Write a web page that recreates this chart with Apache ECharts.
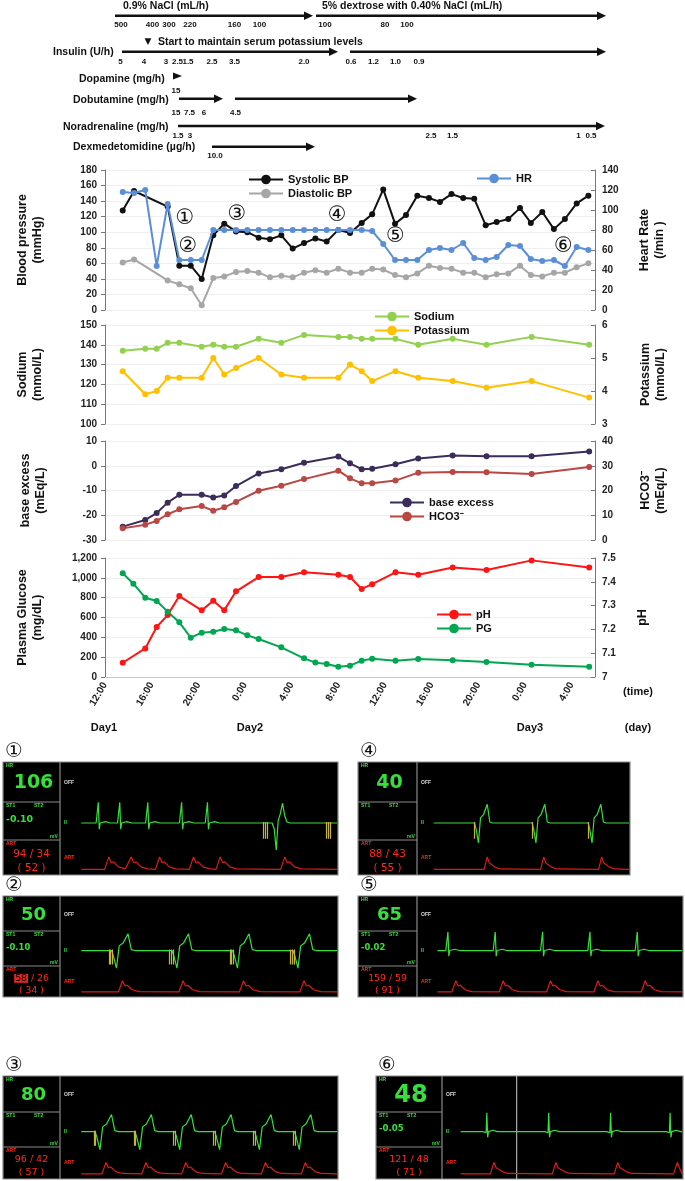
<!DOCTYPE html>
<html>
<head>
<meta charset="utf-8">
<script src="https://cdn.jsdelivr.net/npm/echarts@6/dist/echarts.min.js"></script>
<style>
  html, body { margin: 0; padding: 0; background: #fff; }
  #report-container { width: 685px; height: 1181px; }
</style>
</head>
<body>
<div id="report-container"></div>
<script>
var FONT = '"Liberation Sans", Arial, Helvetica, sans-serif';
var MONO = '"DejaVu Sans", sans-serif';

// x axis = hours after 12:00 on Day1
var timeLabels = ['12:00', '16:00', '20:00', '0:00', '4:00', '8:00', '12:00', '16:00', '20:00', '0:00', '4:00'];

// vital signs
var bpHours = [1.52, 2.49, 5.37, 6.37, 7.35, 8.29, 9.28, 10.22, 11.23, 12.2, 13.17, 14.14, 15.11, 16.09, 17.06, 18.03, 19.0, 20.0,
  21.0, 22.0, 22.9, 23.85, 24.86, 25.8, 26.77, 27.77, 28.71, 29.7, 30.7, 31.65, 32.63, 33.57, 34.57, 35.57, 36.5, 37.48, 38.48, 39.42, 40.43, 41.43];
var systolic = [128, 153, 133, 57, 57, 40, 96, 111, 101, 100, 93, 91, 96, 79, 86, 92, 88, 103,
  99, 112, 123, 155, 111, 122, 147, 144, 139, 149, 144, 143, 109, 113, 117, 131, 112, 126, 104, 117, 137, 147];
var diastolic = [61, 65, 38, 33, 28, 6, 41, 43, 49, 50, 48, 42, 44, 42, 48, 51, 48, 53,
  48, 48, 53, 52, 45, 42, 47, 57, 54, 53, 48, 48, 42, 46, 47, 57, 45, 43, 48, 48, 55, 60];
var hrHours = [1.52, 2.49, 3.45, 4.43, 5.37, 6.37, 7.35, 8.29, 9.28, 10.22, 11.23, 12.2, 13.17, 14.14, 15.11, 16.09, 17.06, 18.03, 19.0, 20.0,
  21.0, 22.0, 22.9, 23.85, 24.86, 25.8, 26.77, 27.77, 28.71, 29.7, 30.7, 31.65, 32.63, 33.57, 34.57, 35.57, 36.5, 37.48, 38.48, 39.42, 40.43, 41.43];
var heartRate = [118, 117, 120, 44, 106, 50, 50, 50, 80, 80, 80, 80, 80, 80, 80, 80, 80, 80, 80, 80,
  80, 80, 79, 66, 50, 50, 50, 60, 62, 60, 67, 52, 50, 53, 65, 64, 51, 49, 50, 44, 63, 60];

// labs
var labHours = [1.52, 3.45, 4.43, 5.37, 6.37, 8.29, 9.28, 10.22, 11.23, 13.17, 15.11, 17.06, 20.0, 21.0, 22.0, 22.9, 24.9, 26.85, 29.8, 32.7, 36.57, 41.5];
var sodium = [137, 138, 138, 141, 141, 139, 140, 139, 139, 143, 141, 145, 144, 144, 143, 143, 143, 140, 143, 140, 144, 140];
var potassium = [4.6, 3.9, 4.0, 4.4, 4.4, 4.4, 5.0, 4.5, 4.7, 5.0, 4.5, 4.4, 4.4, 4.8, 4.6, 4.3, 4.6, 4.4, 4.3, 4.1, 4.3, 3.8];
var baseExcess = [-24.6, -21.9, -19.1, -14.9, -11.7, -11.7, -12.8, -12.0, -8.2, -3.1, -1.4, 1.2, 3.7, 1.0, -1.4, -1.2, 0.6, 2.9, 4.1, 3.8, 3.8, 5.8];
var hco3 = [4.7, 6.2, 7.7, 10.4, 12.4, 13.7, 11.8, 13.2, 15.4, 19.9, 21.9, 24.6, 28.0, 24.9, 22.9, 22.9, 24.0, 27.2, 27.5, 27.4, 26.7, 29.5];
var ph = [7.06, 7.12, 7.21, 7.26, 7.34, 7.28, 7.32, 7.28, 7.36, 7.42, 7.42, 7.44, 7.43, 7.42, 7.37, 7.39, 7.44, 7.43, 7.46, 7.45, 7.49, 7.46];
var pgHours = [1.52, 2.43, 3.45, 4.43, 5.37, 6.37, 7.35, 8.29, 9.28, 10.22, 11.23, 12.2, 13.17, 15.11, 17.06, 18.03, 19.0, 20.0,
  21.0, 22.0, 22.9, 24.9, 26.85, 29.8, 32.7, 36.57, 41.5];
var glucose = [1046, 941, 800, 766, 659, 551, 397, 447, 457, 484, 471, 420, 383, 299, 188, 145, 131, 104,
  114, 165, 185, 165, 182, 168, 151, 124, 104];

// circled event numbers (anchored in BP chart data space)
var eventTags = ['①', '②', '③', '④', '⑤', '⑥'];
var eventAnchor = [[6.86, 118], [7.1, 82], [11.3, 123], [19.9, 121], [24.9, 95], [39.3, 82]];

// monitor screens (order: ①, ④, ②, ⑤, ③, ⑥)
var monitorHR = ['106', '40', '50', '65', '80', '48'];
var monitorST = ['-0.10', '', '-0.10', '-0.02', '', '-0.05'];
var monitorART = ['94 / 34', '88 / 43', '{hl|58} / 26', '159 / 59', '96 / 42', '121 / 48'];
var monitorMean = ['( 52 )', '( 55 )', '( 34 )', '( 91 )', '( 57 )', '( 71 )'];

// beat templates  [dx, amplitude]
var qrsNarrow = [[-1.6, 0], [-1.2, 0.07], [-0.8, 0], [-0.3, -0.06], [0, 1], [0.35, -0.3], [0.7, 0], [2.6, 0.07], [4.4, 0]];
var qrsPvc = [[-0.6, 0], [0.2, -0.3], [0.9, -1.3], [1.6, 0.1], [2.4, 0.45], [3.2, 0.95], [4.0, 0.35], [4.8, 0.05], [6, 0]];
var qrsPaced = [[0, 0], [0.6, -0.25], [1.8, -0.95], [2.8, 0.25], [4.2, 0.4], [6, 0.9], [7.2, 0.05], [8.5, 0]];
var artPulse = [[-1.5, 0], [0, 0.6], [0.9, 0.32], [1.7, 0.36], [3.5, 0.12], [6, 0.02]];

// beat positions per screen (0-100 across the trace area)
var ecgNarrow = [[13.2, 21, 31.2, 43.5, 52.9], [], [], [11, 29, 47, 65, 83], [], [18, 44, 70, 95]];
var ecgWide = [[77], [], [], [], [], []];
var ecgPaced = [[], [26.5, 53.9, 80.6], [18, 40, 62, 84], [], [12, 26.5, 41, 55.5, 70, 84.5], []];
var paceSpikes = [[73.3, 74, 74.7, 96, 96.7, 97.4], [26.5, 53.9, 80.6], [17, 17.7, 18.4, 39, 39.7, 40.4, 61, 61.7, 62.4, 83, 83.7, 84.4],
  [], [11.6, 12.2, 26.1, 26.7, 40.6, 41.2, 55.1, 55.7, 69.6, 70.2, 84.1, 84.7], []];
var artBeats = [[17, 25.2, 35.5, 47.8, 57.5, 81], [32.5, 59.4, 87], [22, 44, 66, 88], [14, 32, 50, 68, 86], [16, 30.5, 45, 59.5, 74, 88.5], [21, 47, 73, 98]];

var dom = document.getElementById('report-container');
var myChart = echarts.init(dom);
var G = [];

function T(x, y, s, size, o) {
  o = o || {};
  var st = {
    text: s, font: (o.weight || 'bold') + ' ' + size + 'px ' + (o.family || FONT),
    fill: o.color || '#111', textAlign: o.align || 'center', textVerticalAlign: 'middle'
  };
  if (o.rich) st.rich = o.rich;
  G.push({type: 'text', x: x, y: y, z: 20, style: st});
}
function ARROW(x1, x2, y) {
  G.push({type: 'line', z: 20, shape: {x1: x1, y1: y, x2: x2 - 6, y2: y}, style: {stroke: '#111', lineWidth: 2.6}});
  G.push({type: 'polygon', z: 20, shape: {points: [[x2 - 9, y - 4.2], [x2, y], [x2 - 9, y + 4.2]]}, style: {fill: '#111'}});
}

// ---- infusion header
T(123, 6, '0.9% NaCl (mL/h)', 10.5, {align: 'left'});
T(322, 6, '5% dextrose with 0.40% NaCl (mL/h)', 10.5, {align: 'left'});
ARROW(115, 313, 15.7);
ARROW(316, 606, 15.7);
[['500', 121], ['400', 152.5], ['300', 169], ['220', 190], ['160', 234.5], ['100', 259.5], ['100', 325], ['80', 385], ['100', 407]]
  .forEach(function (t) { T(t[1], 25, t[0], 8); });
T(148, 41.7, '▼', 9, {family: MONO, weight: 'normal'});
T(158, 41.7, 'Start to maintain serum potassium levels', 10.5, {align: 'left'});
T(53, 52, 'Insulin (U/h)', 10.5, {align: 'left'});
ARROW(122, 338, 51.7);
ARROW(350, 606, 51.7);
[['5', 120.5], ['4', 144], ['3', 166], ['2.5', 177.5], ['1.5', 188], ['2.5', 212], ['3.5', 234.5], ['2.0', 304],
  ['0.6', 351], ['1.2', 373.5], ['1.0', 395.5], ['0.9', 419]].forEach(function (t) { T(t[1], 62, t[0], 8); });
T(79, 79, 'Dopamine (mg/h)', 10.5, {align: 'left'});
G.push({type: 'polygon', z: 20, shape: {points: [[173, 72.5], [182, 76], [173, 79.5]]}, style: {fill: '#111'}});
T(176, 91, '15', 8);
T(73, 100, 'Dobutamine (mg/h)', 10.5, {align: 'left'});
ARROW(179, 223, 98.7);
ARROW(235, 417, 98.7);
[['15', 176], ['7.5', 189.5], ['6', 204], ['4.5', 235.5]].forEach(function (t) { T(t[1], 113, t[0], 8); });
T(63, 127, 'Noradrenaline (mg/h)', 10.5, {align: 'left'});
ARROW(178, 605, 126);
[['1.5', 178], ['3', 190], ['2.5', 431], ['1.5', 452.5], ['1', 578.5], ['0.5', 591]].forEach(function (t) { T(t[1], 136, t[0], 8); });
T(73, 147, 'Dexmedetomidine (µg/h)', 10.5, {align: 'left'});
ARROW(212, 315, 146.7);
T(215, 156, '10.0', 8);

T(638, 692, '(time)', 11);
T(104, 728, 'Day1', 11);
T(250, 728, 'Day2', 11);
T(530, 728, 'Day3', 11);
T(638, 728, '(day)', 11);

// ---- main trend charts
var grids = [
  {left: 105, width: 490, top: 170, height: 140},
  {left: 105, width: 490, top: 325, height: 99},
  {left: 105, width: 490, top: 441, height: 99},
  {left: 105, width: 490, top: 558, height: 119}
];
var xAxes = [0, 1, 2, 3].map(function (i) {
  return {
    type: 'value', gridIndex: i, min: 0, max: 42, interval: 4, show: i === 3,
    axisLine: {lineStyle: {color: '#c8c8c8'}}, axisTick: {show: false}, splitLine: {show: false},
    axisLabel: {
      rotate: 60, margin: 6, fontSize: 10, fontWeight: 'bold', color: '#222', fontFamily: FONT,
      formatter: function (v) { return v % 4 === 0 ? timeLabels[v / 4] : ''; }
    }
  };
});
function yAx(grid, pos, min, max, interval, name, gap, fmt) {
  return {
    type: 'value', gridIndex: grid, position: pos, min: min, max: max, interval: interval,
    name: name, nameLocation: 'middle', nameRotate: 90, nameGap: gap,
    nameTextStyle: {fontSize: 12.5, fontWeight: 'bold', color: '#111', lineHeight: 15, fontFamily: FONT},
    axisLine: {show: true, lineStyle: {color: '#777'}},
    axisTick: {show: true, length: 4, inside: pos === 'right', lineStyle: {color: '#777'}},
    axisLabel: {fontSize: 10, fontWeight: 'bold', color: '#222', margin: pos === 'right' ? 7 : 8, fontFamily: FONT, formatter: fmt},
    splitLine: {show: pos === 'left', lineStyle: {color: '#efefef'}}
  };
}
var yAxes = [
  yAx(0, 'left', 0, 180, 20, 'Blood pressure\n(mmHg)', 60),
  yAx(0, 'right', 0, 140, 20, 'Heart Rate\n(/min )', 42),
  yAx(1, 'left', 100, 150, 10, 'Sodium\n(mmol/L)', 60),
  yAx(1, 'right', 3, 6, 1, 'Potassium\n(mmol/L)', 43),
  yAx(2, 'left', -30, 10, 10, 'base excess\n(mEq/L)', 57),
  yAx(2, 'right', 0, 40, 10, 'HCO3⁻\n(mEq/L)', 43),
  yAx(3, 'left', 0, 1200, 200, 'Plasma Glucose\n(mg/dL)', 60),
  yAx(3, 'right', 7, 7.5, 0.1, 'pH', 40, function (v) { return Math.abs(v - 7) < 1e-6 ? '7' : v.toFixed(1); })
];

function zip(h, v) { return h.map(function (x, i) { return [x, v[i]]; }); }
function trend(name, hours, vals, color, xi, yi, extra) {
  var s = {
    name: name, type: 'line', xAxisIndex: xi, yAxisIndex: yi, data: zip(hours, vals),
    symbol: 'circle', symbolSize: 6, showSymbol: true,
    lineStyle: {color: color, width: 2}, itemStyle: {color: color}, z: 3
  };
  if (extra) Object.assign(s, extra);
  return s;
}

var series = [
  trend('Diastolic BP', bpHours, diastolic, '#a6a6a6', 0, 0),
  trend('Systolic BP', bpHours, systolic, '#111111', 0, 0, {
    markPoint: {
      symbol: 'circle', symbolSize: 1, itemStyle: {color: 'rgba(0,0,0,0)'},
      label: {show: true, position: 'inside', formatter: '{b}', fontSize: 21, color: '#111', fontFamily: MONO},
      data: eventTags.map(function (t, i) { return {name: t, coord: eventAnchor[i]}; })
    }
  }),
  trend('HR', hrHours, heartRate, '#5a8fd8', 0, 1, {z: 4}),
  trend('Sodium', labHours, sodium, '#92d050', 1, 2),
  trend('Potassium', labHours, potassium, '#ffc000', 1, 3),
  trend('base excess', labHours, baseExcess, '#3b2d5a', 2, 4),
  trend('HCO3⁻', labHours, hco3, '#b94743', 2, 5),
  trend('pH', labHours, ph, '#ff1414', 3, 7),
  trend('PG', pgHours, glucose, '#00a650', 3, 6)
];

function leg(names, left, top) {
  return {
    data: names, left: left, top: top, orient: 'vertical', itemGap: 3, itemWidth: 34, itemHeight: 12,
    textStyle: {fontSize: 11, fontWeight: 'bold', color: '#111', fontFamily: FONT}, selectedMode: false
  };
}
var legends = [
  leg(['Systolic BP', 'Diastolic BP'], 243, 169),
  leg(['HR'], 471, 168),
  leg(['Sodium', 'Potassium'], 369, 306),
  leg(['base excess', 'HCO3⁻'], 384, 492),
  leg(['pH', 'PG'], 431, 604)
];

// ---- bedside monitor screens
var panelLayout = [
  {tag: '①', x: 3, y: 762, w: 335, h: 113, col: 57, hrFont: 19},
  {tag: '④', x: 358, y: 762, w: 272, h: 113, col: 59, hrFont: 19},
  {tag: '②', x: 3, y: 896, w: 335, h: 101, col: 57, hrFont: 18},
  {tag: '⑤', x: 358, y: 896, w: 325, h: 101, col: 59, hrFont: 18},
  {tag: '③', x: 3, y: 1076, w: 335, h: 103, col: 57, hrFont: 18},
  {tag: '⑥', x: 376, y: 1076, w: 307, h: 103, col: 66, hrFont: 24, cursor: 31}
];

function buildTrace(events, base, from, to) {
  events.sort(function (a, b) { return a[0] - b[0]; });
  var pts = [[from, base]];
  events.forEach(function (e) {
    e[1].forEach(function (p) {
      var x = e[0] + p[0];
      if (x > pts[pts.length - 1][0] && x <= to) pts.push([x, base + p[1]]);
    });
  });
  pts.push([to, base]);
  return pts;
}

var MG = '#36e03a', MR = '#ff2a1a';
panelLayout.forEach(function (p, k) {
  var gi = grids.length;
  var axX = p.x + p.col;
  var h = p.h, f = h / 114;
  var ecgBase = 0.54 * h, artBaseY = 0.95 * h, SC = 21 * f;
  var d1 = Math.round(0.35 * h), d2 = Math.round(0.69 * h);
  var fnt = function (n) { return Math.max(4.5, n * f); };
  T(p.x + 11, p.y - 10, p.tag, 20, {weight: 'normal', family: MONO});
  G.push({type: 'rect', z: 1, shape: {x: p.x, y: p.y, width: p.w, height: h}, style: {fill: '#000', stroke: '#8a8a8a', lineWidth: 1.2}});
  G.push({type: 'line', z: 2, shape: {x1: axX, y1: p.y, x2: axX, y2: p.y + h}, style: {stroke: '#8a8a8a', lineWidth: 1.2}});
  G.push({type: 'line', z: 2, shape: {x1: p.x, y1: p.y + d1, x2: axX, y2: p.y + d1}, style: {stroke: '#8a8a8a', lineWidth: 1.2}});
  G.push({type: 'line', z: 2, shape: {x1: p.x, y1: p.y + d2, x2: axX, y2: p.y + d2}, style: {stroke: '#8a8a8a', lineWidth: 1.2}});
  if (p.cursor) {
    var cx = axX + p.cursor * (p.w - p.col) / 100;
    G.push({type: 'line', z: 2, shape: {x1: cx, y1: p.y, x2: cx, y2: p.y + h}, style: {stroke: '#cfcfcf', lineWidth: 1}});
  }
  T(p.x + 3, p.y + 4, 'HR', 5, {align: 'left', color: MG});
  T(p.x + p.col / 2 + 2, p.y + 0.18 * h + 1, monitorHR[k], p.hrFont, {color: MG, family: MONO});
  T(p.x + 3, p.y + d1 + 4, 'ST1', 5, {align: 'left', color: MG});
  T(p.x + 31, p.y + d1 + 4, 'ST2', 5, {align: 'left', color: MG});
  T(p.x + 3, p.y + 0.51 * h, monitorST[k], fnt(9.5), {align: 'left', color: MG, family: MONO});
  T(p.x + p.col - 6, p.y + d2 - 3, 'mV', 5, {color: MG});
  T(p.x + 3, p.y + d2 + 4, 'ART', 5, {align: 'left', color: MR});
  T(p.x + p.col / 2, p.y + 0.815 * h, monitorART[k], fnt(10.5), {
    color: MR, family: MONO, weight: 'normal',
    rich: {hl: {backgroundColor: '#e8251a', fill: '#000', color: '#000', font: 'normal ' + fnt(10.5) + 'px ' + MONO, padding: [0, 1]}}
  });
  T(p.x + p.col / 2, p.y + 0.94 * h, monitorMean[k], fnt(10.5), {color: MR, family: MONO, weight: 'normal'});
  T(axX + 4, p.y + 0.18 * h, 'OFF', 5, {align: 'left', color: '#ddd'});
  T(axX + 4, p.y + ecgBase, 'II', 5, {align: 'left', color: MG});
  T(axX + 4, p.y + artBaseY - 12 * f, 'ART', 5, {align: 'left', color: MR});

  grids.push({left: axX + 2, top: p.y, width: p.w - p.col - 3, height: h});
  xAxes.push({type: 'value', gridIndex: gi, min: 0, max: 100, show: false});
  yAxes.push({type: 'value', gridIndex: gi, min: -(h - ecgBase) / SC, max: ecgBase / SC, show: false});
  var xi = xAxes.length - 1, yi = yAxes.length - 1;
  var artBase = -(artBaseY - ecgBase) / SC;

  var ev = [];
  ecgNarrow[k].forEach(function (b) { ev.push([b, qrsNarrow]); });
  ecgWide[k].forEach(function (b) { ev.push([b, qrsPvc]); });
  ecgPaced[k].forEach(function (b) { ev.push([b, qrsPaced]); });
  var aev = artBeats[k].map(function (b) { return [b, artPulse]; });

  series.push({
    type: 'line', xAxisIndex: xi, yAxisIndex: yi, showSymbol: false, silent: true, z: 5,
    data: buildTrace(ev, 0, 7, 100), lineStyle: {color: MG, width: 1.2}
  });
  series.push({
    type: 'line', xAxisIndex: xi, yAxisIndex: yi, showSymbol: false, silent: true, z: 5,
    data: buildTrace(aev, artBase, 7, 100), lineStyle: {color: '#d61e14', width: 1.2}
  });
  series.push({
    type: 'lines', coordinateSystem: 'cartesian2d', xAxisIndex: xi, yAxisIndex: yi, silent: true, z: 6,
    lineStyle: {color: '#c8b43c', width: 1.2, opacity: 1},
    data: paceSpikes[k].map(function (s) { return {coords: [[s, 0.05], [s, -0.75]]}; })
  });
});

var option = {
  animation: false,
  backgroundColor: '#fff',
  textStyle: {fontFamily: FONT},
  grid: grids,
  xAxis: xAxes,
  yAxis: yAxes,
  legend: legends,
  series: series,
  graphic: {elements: G}
};
if (option && typeof option === 'object') {
  myChart.setOption(option, true);
}
</script>
</body>
</html>
